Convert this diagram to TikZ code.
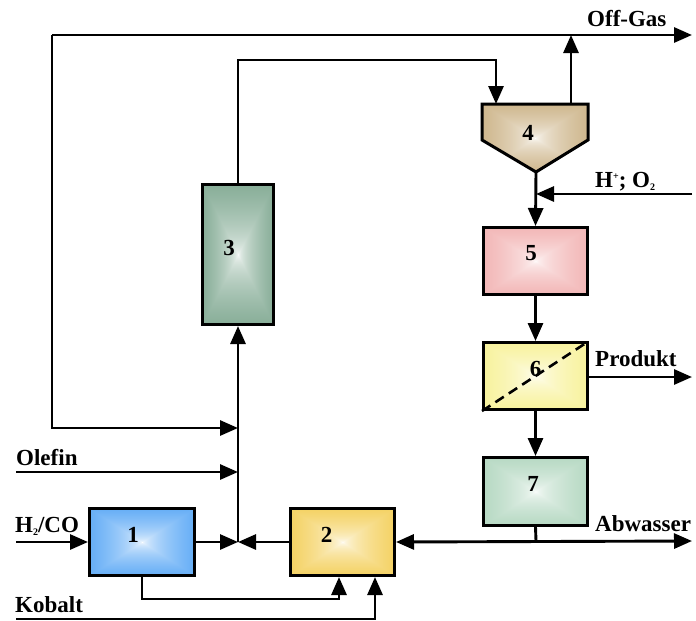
\documentclass[tikz,border=0pt]{standalone}
\usepackage{fontspec}
\setmainfont{Liberation Serif}
\usetikzlibrary{arrows.meta}
\newcommand{\lbl}{\fontsize{23}{27}\selectfont\bfseries}
\newcommand{\lowtwo}{\raisebox{-3pt}{\fontsize{10}{10}\selectfont 2}}
\newcommand{\hiplus}{\raisebox{8pt}{\fontsize{10}{10}\selectfont +}}
% rectangular (pyramid) gradient: white centre -> colour at the edges
\newcommand{\mkshade}[4]{%
\pgfdeclarefunctionalshading{#1}{\pgfpointorigin}{\pgfpoint{100bp}{100bp}}{}{
 50 sub abs exch 50 sub abs 2 copy lt {exch} if pop 50 div sqrt
 dup #2 mul 1 exch sub exch
 dup #3 mul 1 exch sub exch
 #4 mul 1 exch sub
}}
\mkshade{shA}{0.85}{0.45}{0.05}
\mkshade{shB}{0.06}{0.25}{0.86}
\mkshade{shC}{0.66}{0.45}{0.57}
\mkshade{shD}{0.27}{0.40}{0.63}
\mkshade{shE}{0.07}{0.40}{0.40}
\mkshade{shF}{0.04}{0.07}{0.54}
\mkshade{shG}{0.40}{0.21}{0.33}
\begin{document}
\begin{tikzpicture}[x=1pt,y=-1pt,
  ln/.style={line width=2.9pt},
  arr/.style={ln,-{Triangle[length=18pt,width=15pt]}},
  box/.style={draw,line width=3pt,inner sep=0pt,font=\lbl},
  num/.style={font=\lbl,inner sep=0pt},
  txt/.style={anchor=base west,inner sep=0pt,font=\lbl}]
\useasboundingbox[fill=white] (0,0) rectangle (696,621);

% boxes
\node[box,shading=shA,minimum width=105pt,minimum height=67pt,
  label={[num,xshift=-9pt,yshift=7pt]center:1}] (b1) at (142,542) {};
\node[box,shading=shB,minimum width=104pt,minimum height=67pt,
  label={[num,xshift=-16pt,yshift=7pt]center:2}] (b2) at (342.5,542) {};
\node[box,shading=shC,minimum width=71pt,minimum height=140pt,
  label={[num,xshift=-9pt,yshift=6.5pt]center:3}] (b3) at (238,254.5) {};
\node[box,shading=shE,minimum width=104pt,minimum height=67pt,
  label={[num,xshift=-4.5pt,yshift=8pt]center:5}] (b5) at (535.5,261) {};
\node[box,shading=shF,minimum width=104pt,minimum height=67pt,
  label={[num,xshift=0pt,yshift=7pt]center:6}] (b6) at (535.5,376) {};
\node[box,shading=shG,minimum width=104pt,minimum height=68pt,
  label={[num,xshift=-2.5pt,yshift=7.5pt]center:7}] (b7) at (535.5,491.5) {};

% funnel 4
\coordinate (f4tl) at (482,104);
\coordinate (f4tr) at (588,104);
\coordinate (f4tip) at (536,172);
\coordinate (f4in) at (496,104);
\coordinate (f4out) at (571,104);
\draw[line width=3pt,line join=miter,shading=shD] (f4tl) -- (f4tr) -- (588,140) -- (f4tip) -- (482,140) -- cycle;
\node[num] (n4) at (528,133) {4};

% dashed separator in 6
\draw[line width=2.6pt,dash pattern=on 10pt off 6pt] (b6.south west) -- (b6.north east);

% junctions and free ends
\coordinate (jm) at (238,542);
\coordinate (jo) at (238,472);
\coordinate (jr) at (238,428);
\coordinate (tl) at (52,35);
\coordinate (og) at (692,35);
\coordinate (ogj) at (571,35);
\coordinate (olS) at (16,472);
\coordinate (h2S) at (16,542);
\coordinate (koS) at (16,619);
\coordinate (hoS) at (692,194);
\coordinate (hoE) at (536,194);
\coordinate (prE) at (692,377);
\coordinate (abE) at (692,541);
\coordinate (abJ) at (536,541);

% connectors
\draw[arr] (tl) -- (og);
\draw[arr] (tl) -- (52,428) -- (jr);
\draw[arr] (olS) -- (jo);
\draw[arr] (h2S) -- (b1.west);
\draw[arr] (b1.east) -- (jm);
\draw[arr] (b2.west) -- (jm);
\draw[arr] (jm) -- (b3.south);
\draw[arr] (b3.north) -- (238,60) -| (f4in);
\draw[arr] (f4out) -- (ogj);
\draw[arr] (f4tip) -- (b5.north);
\draw[arr] (hoS) -- (hoE);
\draw[arr] (b5.south) -- (b6.north);
\draw[arr] (b6.south) -- (b7.north);
\draw[arr] (b6.east |- prE) -- (prE);
\draw[ln] (b7.south) -- (abJ);
\draw[ln,{Triangle[length=18pt,width=15pt]}-{Triangle[length=18pt,width=15pt]}] (b2.east) -- (abE);
\draw[arr] (b1.south) -- (142,599) -| ([xshift=-3.5pt]b2.south);
\draw[arr] (koS) -| ([xshift=32.5pt]b2.south);

% texts
\node[txt] (tOG) at (587,27) {Off-Gas};
\node[txt] (tHO) at (595,187) {H\hiplus; O\lowtwo};
\node[txt] (tPR) at (595,366) {Produkt};
\node[txt] (tAB) at (595,531) {Abwasser};
\node[txt] (tH2) at (15,532) {H\lowtwo/CO};
\node[txt] (tOL) at (16,465) {Olefin};
\node[txt] (tKO) at (15,612) {Kobalt};
\end{tikzpicture}
\end{document}
